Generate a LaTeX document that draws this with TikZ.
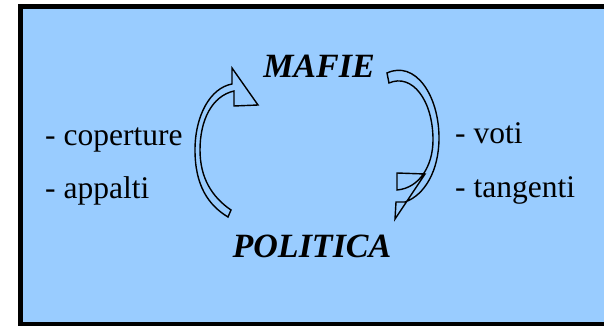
\documentclass[tikz,border=0pt]{standalone}
\usepackage{fontspec}
\setmainfont{Liberation Serif}
\definecolor{panelblue}{HTML}{99CCFF}

\begin{document}
\begin{tikzpicture}[x=1pt,y=-1pt,
  heading/.style={inner sep=0pt,anchor=base,font=\fontsize{34}{40}\selectfont\bfseries\itshape},
  item/.style={inner sep=0pt,anchor=base west,font=\fontsize{31.5}{36}\selectfont},
  bandarrow/.style={draw=black,line width=1.4pt,line join=miter}]
\clip (0,0) rectangle (604,326);
\useasboundingbox (0,0) rectangle (604,326);
% panel
\draw[line width=5pt,fill=panelblue] (20.5,6.5) rectangle (615,324.5);
% labels
\node[heading] (mafie) at (319,78) {MAFIE};
\node[heading] (politica) at (312,257) {POLITICA};
\node[item] (cop) at (45,145) {- coperture};
\node[item] (app) at (45,198) {- appalti};
\node[item] (voti) at (455,143) {- voti};
\node[item] (tang) at (455,197) {- tangenti};
% left arrow, up towards MAFIE
\draw[bandarrow] (228,217) -- (231,210)
  .. controls (212,197) and (200,178) .. (200,150)
  .. controls (200,120) and (212,96) .. (234,91)
  -- (234,106) -- (258,105) -- (232,68) -- (232,84)
  .. controls (210,88) and (195,116) .. (195,150)
  .. controls (195,185) and (208,205) .. (228,217) -- cycle;
% right arrow, down towards POLITICA
\draw[bandarrow] (387,73) -- (389,83)
  .. controls (412,73) and (433,100) .. (433,140)
  .. controls (433,165) and (420,188) .. (397,190)
  -- (397,173) -- (425,174) -- (395,219) -- (396,202) -- (405,202)
  .. controls (425,195) and (439,170) .. (439,138)
  .. controls (439,95) and (415,60) .. (387,73) -- cycle;
\end{tikzpicture}
\end{document}
